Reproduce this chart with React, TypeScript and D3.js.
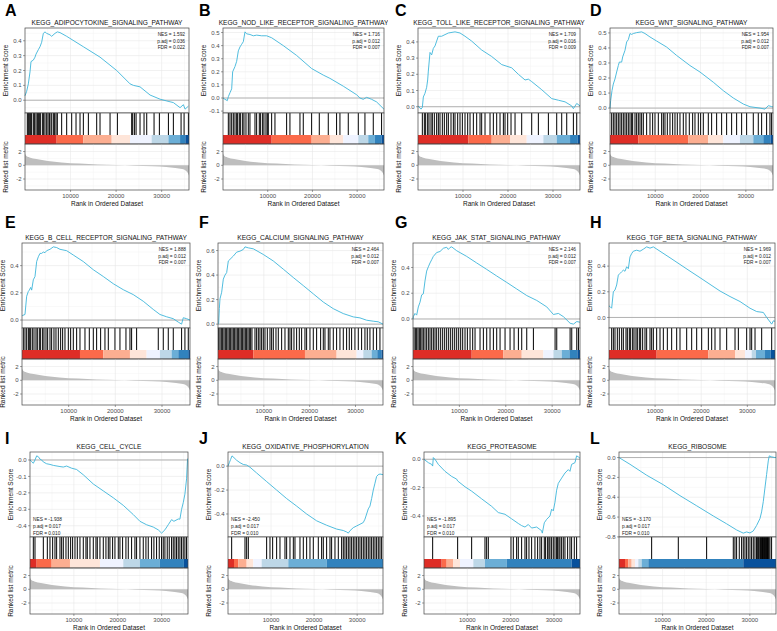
import * as d3 from "d3";

// gene list length
const N = 36000;

const letters = ["A", "B", "C", "D", "E", "F", "G", "H", "I", "J", "K", "L"];
const titles = [
  "KEGG_ADIPOCYTOKINE_SIGNALING_PATHWAY",
  "KEGG_NOD_LIKE_RECEPTOR_SIGNALING_PATHWAY",
  "KEGG_TOLL_LIKE_RECEPTOR_SIGNALING_PATHWAY",
  "KEGG_WNT_SIGNALING_PATHWAY",
  "KEGG_B_CELL_RECEPTOR_SIGNALING_PATHWAY",
  "KEGG_CALCIUM_SIGNALING_PATHWAY",
  "KEGG_JAK_STAT_SIGNALING_PATHWAY",
  "KEGG_TGF_BETA_SIGNALING_PATHWAY",
  "KEGG_CELL_CYCLE",
  "KEGG_OXIDATIVE_PHOSPHORYLATION",
  "KEGG_PROTEASOME",
  "KEGG_RIBOSOME",
];
const nes = [1.592, 1.716, 1.709, 1.954, 1.888, 2.464, 2.146, 1.969, -1.938, -2.45, -1.895, -3.17];
const padj = [0.036, 0.012, 0.016, 0.012, 0.012, 0.012, 0.012, 0.012, 0.017, 0.017, 0.017, 0.017];
const fdr = [0.022, 0.007, 0.009, 0.007, 0.007, 0.007, 0.007, 0.007, 0.01, 0.01, 0.01, 0.01];
const esTickStep = [0.1, 0.1, 0.1, 0.1, 0.2, 0.2, 0.2, 0.2, 0.1, 0.2, 0.2, 0.2];

// running enrichment score, [rank, ES]
const esA: [number, number][] = [[1,0.03],[366,0.06],[732,0.11],[1098,0.19],[1318,0.26],[1830,0.27],[2196,0.29],[2416,0.31],[2928,0.34],[3294,0.36],[3660,0.39],[4026,0.45],[4392,0.46],[4758,0.45],[5490,0.44],[5856,0.43],[6588,0.45],[7100,0.46],[7686,0.455],[9150,0.43],[12810,0.36],[16470,0.29],[20130,0.2],[23058,0.11],[23790,0.1],[25254,0.09],[27450,0.035],[29646,0.007],[31110,-0.005],[32574,-0.016],[34038,-0.05],[34770,-0.03],[35136,-0.06],[35868,-0.04]];
const esB: [number, number][] = [[1,0],[447,-0.01],[970,-0.02],[1190,0.01],[1565,0.04],[1940,0.07],[2160,0.2],[2680,0.24],[3055,0.28],[3430,0.36],[3800,0.39],[4170,0.41],[4545,0.43],[4920,0.505],[5290,0.49],[6030,0.485],[6780,0.475],[7525,0.48],[8640,0.475],[9760,0.475],[10880,0.46],[13480,0.4],[16460,0.325],[19820,0.225],[22425,0.175],[23915,0.15],[26900,0.09],[29870,0.025],[30620,0],[31360,-0.01],[32110,0.005],[33230,-0.01],[34345,-0.03],[35980,-0.085]];
const esC: [number, number][] = [[1,0.005],[667,-0.015],[963,-0.005],[1186,0.06],[1556,0.083],[1927,0.12],[2149,0.165],[2297,0.22],[2668,0.335],[3038,0.32],[3409,0.36],[3779,0.375],[4150,0.405],[4520,0.435],[5261,0.435],[6002,0.445],[6743,0.455],[8225,0.462],[9337,0.455],[10448,0.435],[11930,0.405],[14153,0.35],[16376,0.31],[18599,0.26],[20822,0.24],[22304,0.2],[23786,0.165],[24527,0.17],[25268,0.155],[27491,0.105],[29714,0.05],[31196,0.04],[32678,0.03],[34160,0.005],[34531,-0.012],[35272,0.02],[36000,0.005]];
const esD: [number, number][] = [[1,0],[147,0.05],[442,0.116],[736,0.16],[1104,0.194],[1472,0.24],[1840,0.283],[2061,0.306],[2576,0.306],[2797,0.34],[3312,0.384],[3680,0.44],[4048,0.455],[4416,0.496],[4784,0.49],[5152,0.496],[5888,0.502],[6992,0.507],[7728,0.496],[8832,0.473],[10304,0.446],[12512,0.406],[14720,0.35],[17664,0.283],[19872,0.24],[22816,0.172],[25024,0.116],[27232,0.067],[29440,0.027],[30912,0.009],[33120,0],[34224,-0.007],[34960,0.016],[35696,0.01],[36000,0.008]];
const esE: [number, number][] = [[1,0.03],[143,0.034],[643,0.041],[1000,0.175],[1357,0.21],[1571,0.22],[1856,0.24],[2071,0.22],[2428,0.296],[2785,0.32],[3142,0.43],[3499,0.465],[3856,0.49],[4213,0.49],[4570,0.5],[4927,0.495],[5284,0.51],[5998,0.52],[6712,0.538],[7426,0.533],[8140,0.52],[9568,0.51],[10996,0.478],[13138,0.43],[15280,0.37],[17422,0.32],[19564,0.267],[21706,0.223],[23848,0.187],[25990,0.138],[28132,0.078],[29560,0.041],[30988,0.024],[32416,0.01],[33487,-0.015],[34201,-0.03],[34558,0.017],[35272,0.01],[35986,0]];
const esF: [number, number][] = [[1,0],[145,0.005],[291,0.126],[436,0.206],[800,0.26],[1163,0.367],[1527,0.4],[1890,0.42],[2254,0.515],[2617,0.528],[3344,0.555],[4071,0.587],[4798,0.595],[5525,0.609],[5889,0.63],[6616,0.622],[7706,0.614],[9887,0.568],[12068,0.515],[14249,0.448],[16430,0.38],[18611,0.314],[20792,0.247],[22973,0.18],[25154,0.126],[27335,0.086],[29516,0.059],[30970,0.051],[32424,0.032],[33878,0.024],[34969,0.019],[36000,0]];
const esG: [number, number][] = [[1,0],[72,0.018],[431,0.043],[791,0.03],[1150,0.094],[1510,0.13],[1869,0.187],[2229,0.195],[2588,0.296],[2948,0.372],[3307,0.405],[3667,0.435],[4026,0.46],[4386,0.486],[5105,0.516],[5824,0.524],[6543,0.549],[7262,0.557],[7621,0.54],[7981,0.555],[8340,0.56],[9419,0.53],[11576,0.486],[13733,0.435],[15890,0.385],[18047,0.334],[20204,0.284],[22361,0.233],[24518,0.182],[26675,0.144],[28832,0.094],[30270,0.035],[31348,0.043],[32427,0.018],[33865,-0.033],[34584,-0.04],[35303,-0.02],[36000,-0.025]];
const esH: [number, number][] = [[1,0.09],[217,0.085],[578,0.072],[940,0.2],[1301,0.214],[1663,0.253],[2024,0.33],[2386,0.343],[2747,0.356],[3109,0.369],[3470,0.36],[3832,0.395],[4193,0.38],[4555,0.472],[4916,0.498],[5278,0.516],[6001,0.524],[6724,0.516],[7447,0.532],[8170,0.55],[8893,0.54],[9616,0.55],[11062,0.516],[13231,0.465],[15400,0.413],[17569,0.361],[19738,0.31],[21907,0.258],[24076,0.206],[26245,0.163],[28414,0.124],[30583,0.072],[32029,0.046],[33475,0.039],[34198,0],[35282,-0.052],[35644,-0.026],[36000,-0.03]];
const esI: [number, number][] = [[1,0],[380,-0.01],[759,-0.02],[1139,0],[1518,0.025],[1898,0.02],[2277,0.005],[2657,0],[3036,-0.012],[3795,-0.023],[4554,-0.027],[5313,-0.033],[6831,-0.04],[7590,-0.043],[8349,-0.037],[9488,-0.05],[10626,-0.058],[12144,-0.09],[14421,-0.146],[16698,-0.188],[18975,-0.23],[21252,-0.276],[23529,-0.332],[25047,-0.373],[26565,-0.394],[28083,-0.408],[29222,-0.425],[29981,-0.445],[30740,-0.425],[31499,-0.394],[32259,-0.363],[32790,-0.373],[33776,-0.359],[34155,-0.36],[34535,-0.301],[34914,-0.26],[35294,-0.208],[35673,-0.115],[35900,0.008]];
const esJ: [number, number][] = [[1,0],[310,0.029],[619,0.057],[929,0.086],[1393,0.071],[2012,0.049],[2786,0.029],[3560,0.014],[4334,0.009],[5108,-0.009],[6656,-0.057],[8978,-0.129],[11300,-0.2],[13622,-0.271],[15944,-0.334],[18266,-0.4],[20588,-0.457],[22910,-0.494],[25232,-0.526],[26780,-0.538],[27554,-0.55],[27941,-0.56],[28328,-0.54],[29102,-0.514],[29876,-0.5],[30650,-0.486],[31424,-0.471],[31811,-0.443],[32198,-0.4],[32585,-0.357],[32972,-0.334],[33359,-0.271],[33746,-0.2],[34133,-0.143],[34520,-0.086],[34907,-0.071],[35294,-0.066],[36000,-0.071]];
const esK: [number, number][] = [[1,0],[1000,-0.024],[1769,-0.036],[2000,-0.048],[2153,0.012],[2538,0],[3307,-0.036],[4845,-0.085],[6383,-0.121],[7536,-0.14],[7767,-0.153],[9459,-0.194],[10997,-0.225],[13304,-0.279],[15611,-0.332],[17149,-0.376],[18687,-0.388],[20225,-0.42],[21763,-0.453],[22532,-0.468],[23301,-0.478],[24070,-0.46],[24839,-0.485],[25992,-0.478],[27146,-0.504],[27300,-0.521],[27761,-0.448],[28299,-0.424],[29068,-0.4],[29453,-0.352],[29837,-0.364],[30222,-0.303],[30606,-0.218],[30991,-0.17],[31760,-0.133],[32529,-0.097],[33298,-0.073],[33682,-0.085],[34067,-0.036],[34836,-0.024],[35220,0.024],[35605,0.017],[36000,0.007]];
const esL: [number, number][] = [[1,0],[2521,-0.068],[6341,-0.178],[10161,-0.274],[13981,-0.384],[17801,-0.486],[21621,-0.589],[24677,-0.668],[26969,-0.73],[28497,-0.762],[29261,-0.75],[30025,-0.76],[30789,-0.74],[31553,-0.685],[32317,-0.616],[32699,-0.548],[33081,-0.445],[33463,-0.308],[33845,-0.171],[34227,-0.034],[34456,0.017],[34991,0.007],[35755,0],[36000,0.002]];
const esCurves = [esA, esB, esC, esD, esE, esF, esG, esH, esI, esJ, esK, esL];

// gene-set hit positions (rank)
const hitsA = [510,730,950,1240,1460,1830,2120,2420,2710,2930,3150,3440,3880,4100,4390,4760,5050,5340,5490,5860,6220,6510,6810,7100,8050,9150,10250,11200,12080,12810,13910,15740,16470,18670,20280,23420,23640,24010,24380,25250,26130,26720,28330,29500,31480,32570,34260,34920,35870];
const hitsB = [1190,1565,1940,2310,2680,3055,3280,3650,3950,4400,4690,5140,5660,6030,7150,7525,8120,8420,8865,9160,9610,9910,10130,10880,11620,14230,14970,17210,17950,19820,21530,23540,25400,26150,28010,30250,31740,33600,35460];
const hitsC = [963,1408,1704,2149,2445,2890,3186,3631,4150,4520,4891,5409,5854,6373,6743,7336,7855,8225,8818,9337,9855,10448,11041,11560,12300,13042,13782,14153,14894,16006,16747,17488,18229,18970,19340,19933,20674,21563,23045,25268,26750,28973,30826,31937,33049,34531,35272];
const hitsD = [368,736,1104,1472,1840,2208,2576,2944,3312,3680,4048,4416,4784,5005,5520,5888,6256,6624,6992,7360,8096,8832,9421,9936,10672,11408,11776,12144,12659,13248,13837,14352,14867,15456,16192,16781,17517,18253,18768,19504,20019,20608,21712,22448,23552,24656,25760,26864,27968,29072,30176,31648,32752,33488,34592,35328,35696];
const hitsE = [286,643,1000,1357,1571,1856,2213,2570,2999,3284,3713,3998,4427,4712,5141,5498,5998,6355,6854,7283,7783,8282,8711,9211,9925,10424,10996,11710,12424,13495,14423,15280,15994,16850,17779,18493,19921,20992,22277,23134,23491,24562,29203,30274,31345,32416,34201,34915,35629];
const hitsF = [145,436,727,1018,1309,1599,1890,2181,2472,2763,3053,3344,3635,3926,4217,4507,4798,5089,5380,5671,5961,6252,6543,6834,7125,7415,8070,8433,8797,9160,9524,9887,10251,10760,11341,11705,12068,12650,13159,13886,14613,15340,15703,16067,16576,17157,17739,18248,18975,19338,20065,20792,21519,22392,22973,23337,24064,24427,25154,25881,26608,27335,28062,28644,29153,29880,30607,31334,32061,32570,33151,33878,34605,35332];
const hitsG = [216,503,791,1079,1366,1654,1941,2229,2588,2948,3307,3667,4026,4386,4745,5105,5536,5968,6399,6831,7262,7693,8125,8556,8988,9419,9850,10282,10713,11216,11720,12295,12870,13373,14452,15171,15890,16609,17328,18047,18766,19844,20923,21785,22720,23439,24518,25956,30629,30989,33865,34224,35303,35662];
const hitsH = [578,940,1301,1808,2241,2747,3109,3687,3977,4410,4700,5133,5423,5856,6146,6579,6869,7302,7808,8170,8893,9254,9616,10339,11062,11785,12653,13592,14677,15400,16846,17930,19015,20099,21545,22268,22991,24076,25522,27329,28053,29860,30583,30944,31667,33113,35282];
const hitsI = [759,1139,3036,3947,4554,5161,5693,6072,6831,7211,7590,8197,8729,9260,9715,10247,10778,11385,12144,12751,13055,13662,14421,15028,15332,15939,16698,17305,17837,18216,18823,19355,20114,20493,21100,21859,22391,23150,23909,24288,25047,25806,26413,26945,27704,28235,28842,29449,29981,30360,30740,31271,31726,32259,32637,33017,33396,33776,34155,34535,34914,35294,35673];
const hitsJ = [851,3947,4334,4721,8978,9752,10372,11300,12074,13235,13622,14396,15170,15557,16718,17492,18266,19040,19814,20975,21749,22136,22910,23684,24071,24845,25619,26393,26780,27167,27554,27941,28328,28715,29102,29489,29876,30263,30650,31037,31424,31811,32198,32585,32972,33359,33746,34133,34520,34907,35294,35681];
const hitsK = [2000,7767,10997,14073,14457,14842,20071,20609,21378,21763,22532,23301,23685,24224,24839,25608,26223,26761,27146,27761,28069,28530,28838,29068,29453,29837,30222,30606,30838,31145,31375,31760,32144,32529,33144,33682,34067,34682,35220];
const hitsL = [7487,13599,20093,26205,26587,26969,27580,28115,28497,28879,29261,29643,30025,30407,30789,31171,31553,31706,31935,32088,32317,32470,32699,32852,32928,33081,33234,33310,33463,33540,33692,33845,33998,34074,34227,34380,34609,34991];
const hitSets = [hitsA, hitsB, hitsC, hitsD, hitsE, hitsF, hitsG, hitsH, hitsI, hitsJ, hitsK, hitsL];

// rank where the colour bar changes to the next shade
const barA = [6950, 12800, 19030, 23060, 27800, 31480, 34040, 35200];
const barB = [10880, 19820, 23910, 26900, 30250, 32480, 33970, 35460];
const barC = [11190, 16380, 20450, 24160, 27860, 30830, 33790, 35500];
const barD = [6256, 17296, 21712, 25024, 28704, 31648, 33856, 35470];
const barE = [12424, 17422, 23134, 26704, 29560, 32060, 33490, 35630];
const barF = [7706, 18975, 25881, 30243, 31697, 33515, 34750, 35700];
const barG = [12654, 19485, 23439, 28113, 30270, 32067, 33721, 35447];
const barH = [10339, 21545, 27329, 29498, 30944, 31884, 33836, 35066];
const barI = [1518, 4934, 9108, 15939, 21252, 25047, 29601, 35066];
const barJ = [1393, 2399, 4334, 5882, 7817, 14009, 22910, 36000];
const barK = [4076, 5229, 6767, 8305, 11381, 14073, 19071, 34067];
const barL = [1375, 2139, 2903, 3667, 4431, 5195, 6723, 28497];
const barBreaks = [barA, barB, barC, barD, barE, barF, barG, barH, barI, barJ, barK, barL];
const barColors = ["#DE2D26", "#FB6A4A", "#FCAE91", "#FEE5D9", "#EFF3FF", "#BDD7E7", "#6BAED6", "#3182BD", "#08519C"];

// ranked list metric (same gene list for every panel)
const metricRank = [1, 300, 1000, 2500, 5000, 8000, 12000, 16000, 20000, 24000, 28000, 31000, 33000, 34500, 35300, 35800, 36000];
const metricValue = [1.7, 1.35, 1.15, 0.9, 0.62, 0.42, 0.25, 0.13, 0.04, -0.05, -0.15, -0.25, -0.38, -0.55, -0.8, -1.2, -1.5];
const rankDomain = [-3.6, 3.1];
const rankTicks = [-2, 0, 2];
const xTicks = [10000, 20000, 30000];
const xMinor = [5000, 15000, 25000, 35000];

// layout
const W = 777, H = 631;
const plotLeft = [25, 223, 418, 610, 22, 218, 413, 609, 30, 228, 424, 619];
const plotRight = [189, 384, 580, 773, 190, 383, 580, 775, 188, 383, 580, 776];
const rowTop = [28, 243, 452];
const letterBase = [15.5, 228, 444];
const letterX = [5, 199, 395, 590];
const clipX = [[0, 193], [193, 388], [388, 585], [585, 777]];
const ES_H = 85, HIT_H = 22, BAR_H = 9, RANK_H = 46;

const GRID = "#E8E8E8", GRID_MINOR = "#F3F3F3", BORDER = "#444", TICK_TXT = "#4D4D4D";

function Panel({ i }: { i: number }) {
  const row = Math.floor(i / 4), col = i % 4;
  const left = plotLeft[i], right = plotRight[i];
  const top = rowTop[row];
  const esBottom = top + ES_H;
  const hitBottom = esBottom + HIT_H;
  const barBottom = hitBottom + BAR_H;
  const rankBottom = barBottom + RANK_H;

  const x = d3.scaleLinear().domain([1, N]).range([left, right]);
  const curve = esCurves[i];
  const [lo, hi] = d3.extent(curve, (d) => d[1]) as [number, number];
  const pad = (hi - lo) * 0.05;
  const y = d3.scaleLinear().domain([lo - pad, hi + pad]).range([esBottom, top]);
  const step = esTickStep[i];
  const [d0, d1] = y.domain();
  const yTicks = d3.range(Math.ceil(d0 / step - 1e-9), Math.floor(d1 / step + 1e-9) + 1).map((k) => k * step);
  const yMinor = [yTicks[0] - step / 2, ...yTicks.map((t) => t + step / 2)].filter((t) => t > d0 && t < d1);

  const yr = d3.scaleLinear().domain(rankDomain).range([rankBottom, barBottom]);
  const rankMinor = [-3, -1, 1, 3];

  const line = d3.line<[number, number]>().x((d) => x(d[0])).y((d) => y(d[1]));
  const metric = metricRank.map((r, k) => [r, metricValue[k]] as [number, number]);
  const area = d3.area<[number, number]>()
    .x((d) => x(d[0]))
    .y0(yr(0))
    .y1((d) => yr(d[1]))
    .curve(d3.curveMonotoneX);

  const edges = [1, ...barBreaks[i], N];
  const positive = nes[i] > 0;
  const statLines = [
    `NES = ${nes[i].toFixed(3)}`,
    `p.adj = ${padj[i].toFixed(3)}`,
    `FDR = ${fdr[i].toFixed(3)}`,
  ];
  const cx = (left + right) / 2;

  return (
    <g clipPath={`url(#col${col})`}>
      <text x={letterX[col]} y={letterBase[row]} fontSize={16} fontWeight="bold" fill="#000">{letters[i]}</text>
      <text x={cx} y={top - 3} fontSize={6.6} textAnchor="middle" fill="#111">{titles[i]}</text>

      {/* enrichment score panel */}
      <rect x={left} y={top} width={right - left} height={ES_H} fill="#fff" />
      {yMinor.map((t) => <line key={"hm" + t} x1={left} x2={right} y1={y(t)} y2={y(t)} stroke={GRID_MINOR} strokeWidth={0.5} />)}
      {xMinor.map((t) => <line key={"vm" + t} x1={x(t)} x2={x(t)} y1={top} y2={esBottom} stroke={GRID_MINOR} strokeWidth={0.5} />)}
      {yTicks.map((t) => <line key={"h" + t} x1={left} x2={right} y1={y(t)} y2={y(t)} stroke={GRID} strokeWidth={0.6} />)}
      {xTicks.map((t) => <line key={"v" + t} x1={x(t)} x2={x(t)} y1={top} y2={esBottom} stroke={GRID} strokeWidth={0.6} />)}
      <line x1={left} x2={right} y1={y(0)} y2={y(0)} stroke="#ABABAB" strokeWidth={0.9} />
      <path d={line(curve) ?? ""} fill="none" stroke="#3DB5DA" strokeWidth={0.9} />
      {statLines.map((s, k) => positive ? (
        <text key={s} x={right - 4} y={top + 8 + k * 6.5} fontSize={4.8} textAnchor="end" fill="#222">{s}</text>
      ) : (
        <text key={s} x={left + 3} y={esBottom - 16.5 + k * 7} fontSize={4.8} fill="#222">{s}</text>
      ))}
      <rect x={left} y={top} width={right - left} height={ES_H} fill="none" stroke={BORDER} strokeWidth={0.7} />
      {yTicks.map((t) => (
        <g key={"yt" + t}>
          <line x1={left - 2} x2={left} y1={y(t)} y2={y(t)} stroke={BORDER} strokeWidth={0.5} />
          <text x={left - 3.5} y={y(t)} dy="0.35em" fontSize={6} textAnchor="end" fill={TICK_TXT}>{t.toFixed(1)}</text>
        </g>
      ))}
      <text transform={`translate(${left - 17},${(top + esBottom) / 2}) rotate(-90)`} fontSize={6.5} textAnchor="middle" fill="#111">Enrichment Score</text>

      {/* hits and colour bar */}
      <rect x={left} y={esBottom} width={right - left} height={HIT_H + BAR_H} fill="#fff" />
      {hitSets[i].map((h) => (
        <line key={"hit" + h} x1={x(h)} x2={x(h)} y1={esBottom} y2={hitBottom} stroke="#000" strokeWidth={1} />
      ))}
      {barColors.map((c, k) => (
        <rect key={"bar" + k} x={x(edges[k])} y={hitBottom} width={Math.max(0, x(edges[k + 1]) - x(edges[k]))} height={BAR_H} fill={c} />
      ))}
      <rect x={left} y={esBottom} width={right - left} height={HIT_H + BAR_H} fill="none" stroke={BORDER} strokeWidth={0.7} />

      {/* ranked list metric */}
      {rankMinor.map((t) => <line key={"rm" + t} x1={left} x2={right} y1={yr(t)} y2={yr(t)} stroke={GRID_MINOR} strokeWidth={0.5} />)}
      {xMinor.map((t) => <line key={"rvm" + t} x1={x(t)} x2={x(t)} y1={barBottom} y2={rankBottom} stroke={GRID_MINOR} strokeWidth={0.5} />)}
      {rankTicks.map((t) => <line key={"rh" + t} x1={left} x2={right} y1={yr(t)} y2={yr(t)} stroke={GRID} strokeWidth={0.6} />)}
      {xTicks.map((t) => <line key={"rv" + t} x1={x(t)} x2={x(t)} y1={barBottom} y2={rankBottom} stroke={GRID} strokeWidth={0.6} />)}
      <path d={area(metric) ?? ""} fill="#BEBEBE" />
      <rect x={left} y={barBottom} width={right - left} height={RANK_H} fill="none" stroke={BORDER} strokeWidth={0.7} />
      {rankTicks.map((t) => (
        <g key={"ryt" + t}>
          <line x1={left - 2} x2={left} y1={yr(t)} y2={yr(t)} stroke={BORDER} strokeWidth={0.5} />
          <text x={left - 3.5} y={yr(t)} dy="0.35em" fontSize={6} textAnchor="end" fill={TICK_TXT}>{t < 0 ? "-" + Math.abs(t) : String(t)}</text>
        </g>
      ))}
      {xTicks.map((t) => (
        <g key={"xt" + t}>
          <line x1={x(t)} x2={x(t)} y1={rankBottom} y2={rankBottom + 2} stroke={BORDER} strokeWidth={0.5} />
          <text x={x(t)} y={rankBottom + 8} fontSize={6} textAnchor="middle" fill={TICK_TXT}>{t}</text>
        </g>
      ))}
      <text transform={`translate(${left - 17},${(barBottom + rankBottom) / 2}) rotate(-90)`} fontSize={6.5} textAnchor="middle" fill="#111">Ranked list metric</text>
      <text x={cx} y={rankBottom + 15.5} fontSize={6.5} textAnchor="middle" fill="#111">Rank in Ordered Dataset</text>
    </g>
  );
}

export default function App() {
  return (
    <svg
      width={W}
      height={H}
      style={{ position: "absolute", left: 0, top: 0, background: "#fff" }}
      fontFamily="'Liberation Sans', Arial, Helvetica, sans-serif"
    >
      <defs>
        {clipX.map(([a, b], k) => (
          <clipPath id={`col${k}`} key={k}>
            <rect x={a} y={0} width={b - a} height={H} />
          </clipPath>
        ))}
      </defs>
      <rect width={W} height={H} fill="#fff" />
      {titles.map((_, i) => <Panel key={i} i={i} />)}
    </svg>
  );
}
